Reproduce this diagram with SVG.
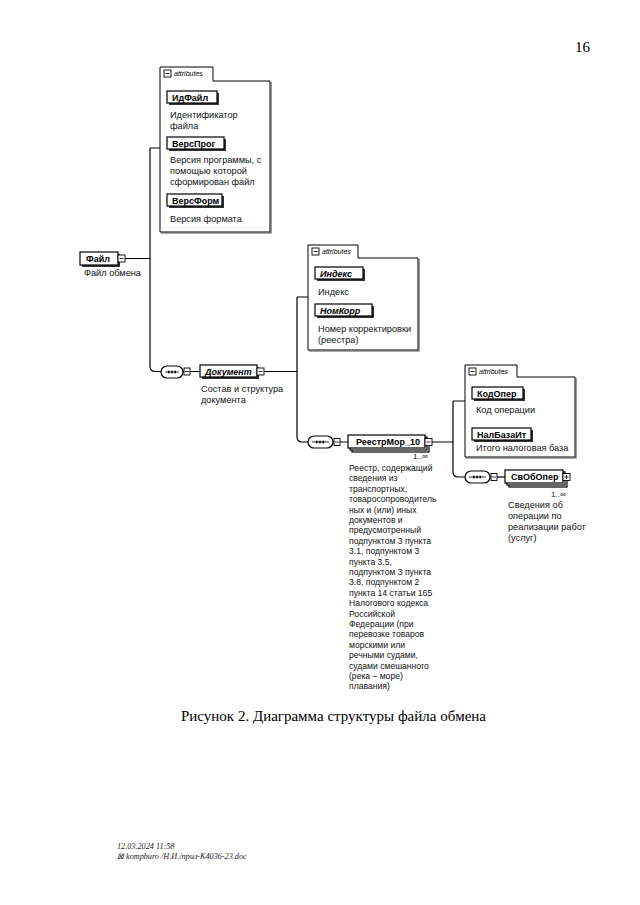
<svg xmlns="http://www.w3.org/2000/svg" width="640" height="905" viewBox="0 0 640 905">
<style>
.nm{font-family:"Liberation Sans",Arial,sans-serif;font-size:9px;font-weight:bold;fill:#000}
.it{font-style:italic}
.ds{font-family:"Liberation Sans",Arial,sans-serif;font-size:8.6px;fill:#111}
.d9{font-size:9.2px}
.box{fill:#fff;stroke:#000;stroke-width:1.2}
.sh{fill:#333}
.ab{fill:#fff;stroke:#000;stroke-width:1}
.tab{font-family:"Liberation Sans",Arial,sans-serif;font-size:7px;font-style:italic;fill:#000}
.ln{fill:none;stroke:#000;stroke-width:1.2}
.sm{fill:#fff;stroke:#000;stroke-width:0.9}
.cap{font-family:"Liberation Serif","Times New Roman",serif;font-size:15px;fill:#000}
.ft{font-family:"Liberation Serif","Times New Roman",serif;font-size:8.2px;font-style:italic;fill:#222}
</style>
<rect width="640" height="905" fill="#fff"/>
<text x="575" y="52" class="cap">16</text>

<g id="connectors">
  <path class="ln" d="M125,258.5 H150 M150,148 H160 M150,148 V366 Q150,371.5 155,371.5 H161"/>
  <path class="ln" d="M183,371.5 H200 M264,371.5 H297 M297,297 H308 M297,297 V437 Q297,442 302,442 H308"/>
  <path class="ln" d="M333,442 H348 M432,442 H453 M453,401 H465 M453,401 V472 Q453,477 458,477 H465"/>
  <path class="ln" d="M490,477 H505"/>
</g>

<g id="attrs1">
  <path class="ab" d="M160,232 V67 H213 V81 H270 V232 Z"/>
  <path d="M271,82 V233 H161" fill="none" stroke="#555" stroke-width="1.2"/>
  <rect class="sm" x="164" y="70" width="7" height="7"/>
  <path d="M165.5,73.5 H169.5" stroke="#000" stroke-width="0.8"/>
  <text class="tab" x="174" y="76">attributes</text>
</g>
<g id="ИдФайл">
  <rect class="sh" x="169" y="93" width="50" height="12"/>
  <rect class="box" x="167" y="91" width="50" height="12"/>
  <text class="nm" x="172" y="100.5">ИдФайл</text>
  <text class="ds d9" x="170" y="118">Идентификатор</text>
  <text class="ds d9" x="170" y="129">файла</text>
</g>
<g id="ВерсПрог">
  <rect class="sh" x="169" y="139" width="57" height="12"/>
  <rect class="box" x="167" y="137" width="57" height="12"/>
  <text class="nm" x="172" y="146.5">ВерсПрог</text>
  <text class="ds d9" x="170" y="163">Версия программы, с</text>
  <text class="ds d9" x="170" y="174">помощью которой</text>
  <text class="ds d9" x="170" y="185">сформирован файл</text>
</g>
<g id="ВерсФорм">
  <rect class="sh" x="169" y="196" width="55" height="12"/>
  <rect class="box" x="167" y="194" width="55" height="12"/>
  <text class="nm" x="172" y="203.5">ВерсФорм</text>
  <text class="ds d9" x="170" y="222">Версия формата</text>
</g>

<g id="Файл">
  <rect class="sh" x="82" y="254" width="38" height="13"/>
  <rect class="box" x="80" y="252" width="38" height="13"/>
  <text class="nm" x="86" y="261.5">Файл</text>
  <rect class="sm" x="118" y="255" width="7" height="7"/>
  <path d="M119.5,258.5 H123.5" stroke="#000" stroke-width="0.8"/>
  <text class="ds d9" x="84" y="276">Файл обмена</text>
</g>

<g id="seq1">
  <rect x="161" y="366" width="22" height="12" rx="6" class="box"/>
  <path d="M165,372 H179" stroke="#000" stroke-width="0.8"/>
  <rect x="168" y="370.7" width="1.6" height="2.6" fill="#000"/>
  <rect x="171.2" y="370.7" width="1.6" height="2.6" fill="#000"/>
  <rect x="174.4" y="370.7" width="1.6" height="2.6" fill="#000"/>
  <rect class="sm" x="184" y="368" width="6" height="7"/>
  <path d="M185,371.5 H189" stroke="#000" stroke-width="0.8"/>
</g>
<g id="Документ">
  <rect class="sh" x="202" y="367" width="57" height="12"/>
  <rect class="box" x="200" y="365" width="57" height="12"/>
  <text class="nm it" x="205" y="374.5">Документ</text>
  <rect class="sm" x="257" y="368" width="7" height="7"/>
  <path d="M258.5,371.5 H262.5" stroke="#000" stroke-width="0.8"/>
  <text class="ds d9" x="201" y="392">Состав и структура</text>
  <text class="ds d9" x="201" y="403">документа</text>
</g>

<g id="attrs2">
  <path class="ab" d="M308,350 V245 H358 V258 H418 V350 Z"/>
  <path d="M419,259 V351 H309" fill="none" stroke="#555" stroke-width="1.2"/>
  <rect class="sm" x="312" y="248" width="7" height="7"/>
  <path d="M313.5,251.5 H317.5" stroke="#000" stroke-width="0.8"/>
  <text class="tab" x="322" y="254">attributes</text>
</g>
<g id="Индекс">
  <rect class="sh" x="317" y="269" width="48" height="12"/>
  <rect class="box" x="315" y="267" width="48" height="12"/>
  <text class="nm it" x="320" y="276.5">Индекс</text>
  <text class="ds d9" x="318" y="295">Индекс</text>
</g>
<g id="НомКорр">
  <rect class="sh" x="317" y="306" width="57" height="12"/>
  <rect class="box" x="315" y="304" width="57" height="12"/>
  <text class="nm it" x="320" y="313.5">НомКорр</text>
  <text class="ds d9" x="318" y="332">Номер корректировки</text>
  <text class="ds d9" x="318" y="343">(реестра)</text>
</g>

<g id="seq2">
  <rect x="308" y="436" width="25" height="12" rx="6" class="box"/>
  <path d="M312,442 H329" stroke="#000" stroke-width="0.8"/>
  <rect x="316" y="440.7" width="1.6" height="2.6" fill="#000"/>
  <rect x="319.2" y="440.7" width="1.6" height="2.6" fill="#000"/>
  <rect x="322.4" y="440.7" width="1.6" height="2.6" fill="#000"/>
  <rect class="sm" x="334" y="438.5" width="6" height="7"/>
  <path d="M335,442 H339" stroke="#000" stroke-width="0.8"/>
</g>
<g id="РеестрМор_10">
  <rect class="box" x="352" y="439" width="77" height="13"/>
  <rect class="box" x="350" y="437" width="77" height="13"/>
  <rect class="box" x="348" y="435" width="77" height="13"/>
  <text class="nm" x="356" y="444.5">РеестрМор_10</text>
  <rect class="sm" x="425" y="438.5" width="7" height="7"/>
  <path d="M426.5,442 H430.5" stroke="#000" stroke-width="0.8"/>
  <text class="ds" x="413" y="459" style="font-size:8px">1..∞</text>
  <text class="ds" x="349" y="471">Реестр, содержащий</text>
  <text class="ds" x="349" y="481.4">сведения из</text>
  <text class="ds" x="349" y="491.8">транспортных,</text>
  <text class="ds" x="349" y="502.2">товаросопроводитель</text>
  <text class="ds" x="349" y="512.6">ных и (или) иных</text>
  <text class="ds" x="349" y="523">документов и</text>
  <text class="ds" x="349" y="533.4">предусмотренный</text>
  <text class="ds" x="349" y="543.8">подпунктом 3 пункта</text>
  <text class="ds" x="349" y="554.2">3.1, подпунктом 3</text>
  <text class="ds" x="349" y="564.6">пункта 3.5,</text>
  <text class="ds" x="349" y="575">подпунктом 3 пункта</text>
  <text class="ds" x="349" y="585.4">3.8, подпунктом 2</text>
  <text class="ds" x="349" y="595.8">пункта 14 статьи 165</text>
  <text class="ds" x="349" y="606.2">Налогового кодекса</text>
  <text class="ds" x="349" y="616.6">Российской</text>
  <text class="ds" x="349" y="627">Федерации (при</text>
  <text class="ds" x="349" y="637.4">перевозке товаров</text>
  <text class="ds" x="349" y="647.8">морскими или</text>
  <text class="ds" x="349" y="658.2">речными судами,</text>
  <text class="ds" x="349" y="668.6">судами смешанного</text>
  <text class="ds" x="349" y="679">(река – море)</text>
  <text class="ds" x="349" y="689.4">плавания)</text>
</g>

<g id="attrs3">
  <path class="ab" d="M465,457 V365 H517 V377 H575 V457 Z"/>
  <path d="M576,378 V458 H466" fill="none" stroke="#555" stroke-width="1.2"/>
  <rect class="sm" x="469" y="368" width="7" height="7"/>
  <path d="M470.5,371.5 H474.5" stroke="#000" stroke-width="0.8"/>
  <text class="tab" x="479" y="374">attributes</text>
</g>
<g id="КодОпер">
  <rect class="sh" x="474" y="389" width="51" height="12"/>
  <rect class="box" x="472" y="387" width="51" height="12"/>
  <text class="nm" x="477" y="396.5">КодОпер</text>
  <text class="ds d9" x="476" y="413">Код операции</text>
</g>
<g id="НалБазаИт">
  <rect class="sh" x="474" y="430" width="59" height="12"/>
  <rect class="box" x="472" y="428" width="59" height="12"/>
  <text class="nm" x="477" y="437.5">НалБазаИт</text>
  <text class="ds d9" x="476" y="451">Итого налоговая база</text>
</g>

<g id="seq3">
  <rect x="465" y="471" width="25" height="12" rx="6" class="box"/>
  <path d="M469,477 H486" stroke="#000" stroke-width="0.8"/>
  <rect x="473" y="475.7" width="1.6" height="2.6" fill="#000"/>
  <rect x="476.2" y="475.7" width="1.6" height="2.6" fill="#000"/>
  <rect x="479.4" y="475.7" width="1.6" height="2.6" fill="#000"/>
  <rect class="sm" x="491" y="473.5" width="6" height="7"/>
  <path d="M492,477 H496" stroke="#000" stroke-width="0.8"/>
</g>
<g id="СвОбОпер">
  <rect class="box" x="509" y="474" width="58" height="13"/>
  <rect class="box" x="507" y="472" width="58" height="13"/>
  <rect class="box" x="505" y="470" width="58" height="13"/>
  <text class="nm" x="511" y="479.5">СвОбОпер</text>
  <rect class="sm" x="563" y="473.5" width="7" height="7"/>
  <path d="M564.5,477 H568.5 M566.5,475 V479" stroke="#000" stroke-width="0.8"/>
  <text class="ds" x="551" y="497" style="font-size:8px">1..∞</text>
  <text class="ds d9" x="508" y="508">Сведения об</text>
  <text class="ds d9" x="508" y="519">операции по</text>
  <text class="ds d9" x="508" y="530">реализации работ</text>
  <text class="ds d9" x="508" y="541">(услуг)</text>
</g>

<text class="cap" x="181" y="721">Рисунок 2. Диаграмма структуры файла обмена</text>
<text class="ft" x="117" y="849">12.03.2024 11:58</text>
<text class="ft" x="117" y="859">⊠ kompburo /Н.И./прил-К4036-23.doc</text>
</svg>
